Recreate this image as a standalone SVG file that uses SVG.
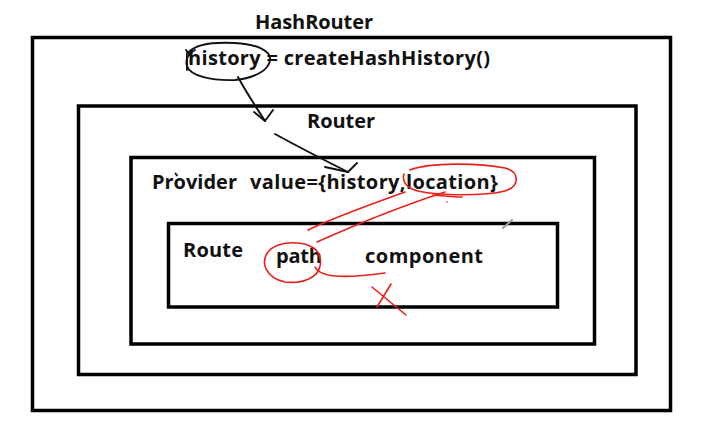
<svg xmlns="http://www.w3.org/2000/svg" width="712" height="436" viewBox="0 0 712 436">
<style>
.box{fill:none;stroke:#000;stroke-width:3.5}
.t{font-family:"Open Sans","Liberation Sans",sans-serif;font-weight:700;font-size:20px;fill:#111}
.ink{fill:none;stroke:#111;stroke-width:1.9;stroke-linecap:round;stroke-linejoin:round}
.red{fill:none;stroke:#e8201c;stroke-width:1.6;stroke-linecap:round;stroke-linejoin:round}
</style>
<rect width="712" height="436" fill="#fff"/>
<g id="hashrouter">
<rect class="box" x="32.5" y="37.5" width="638" height="373"/>
<text class="t" x="255" y="29" textLength="118">HashRouter</text>
<text class="t" x="188" y="65" textLength="302">history = createHashHistory()</text>
</g>
<g id="router">
<rect class="box" x="78.5" y="106" width="557.5" height="268.5"/>
<text class="t" x="307" y="128" textLength="68">Router</text>
</g>
<g id="provider">
<rect class="box" x="131" y="157.5" width="463.5" height="186.5"/>
<text class="t" x="152" y="189" textLength="85">Provider</text>
<text class="t" x="250" y="189" textLength="248">value={history,location}</text>
</g>
<g id="route">
<rect class="box" x="168.5" y="223.5" width="389" height="83.5"/>
<text class="t" x="183" y="257" textLength="60">Route</text>
<text class="t" x="276" y="263" textLength="46">path</text>
<text class="t" x="365" y="263" textLength="118">component</text>
</g>
<g id="connectors">
<path class="ink" d="M186,50 L191,56 M189,52 C196,44 215,42 235,43 C255,44 271,50 270,60 C269,70 255,78 235,80 C212,81 190,76 187,66 C185,60 188,54 195,50"/>
<path class="ink" d="M187,53 L187,70"/>
<path class="ink" d="M238,77 C246,92 256,107 265,121"/>
<path class="ink" d="M254,112 L265,121 L273,110"/>
<path class="ink" d="M275,134 C295,145 320,158 348,172"/>
<path class="ink" d="M325,167 L348,172 L357,163"/>
<path class="ink" d="M175.5,173.5 L177,175.5" stroke-width="1.3"/>
<path class="red" d="M410,170 C430,162 480,163 505,168 C520,172 520,186 505,191 C485,196 440,196 418,191 C405,188 402,180 404,174"/>
<path class="red" d="M308,230 C340,215 375,203 405,192"/>
<path class="red" d="M317,242 C355,225 405,205 445,192"/>
<path class="red" d="M433,195 C443,196 452,197 462,197"/>
<circle cx="447" cy="202" r="0.8" fill="#e8201c"/>
<path class="red" d="M316,250 C305,240 278,240 268,252 C260,263 266,278 285,282 C302,284 318,278 320,266 C322,258 318,250 312,247"/>
<path class="red" d="M315,267 C320,277 340,279 385,273"/>
<path class="red" d="M372,287 L406,315 M391,284 L377,307"/>
<path d="M503,228 L512,220" stroke="#9a9a9a" stroke-width="2" stroke-linecap="round"/>
</g>
</svg>
